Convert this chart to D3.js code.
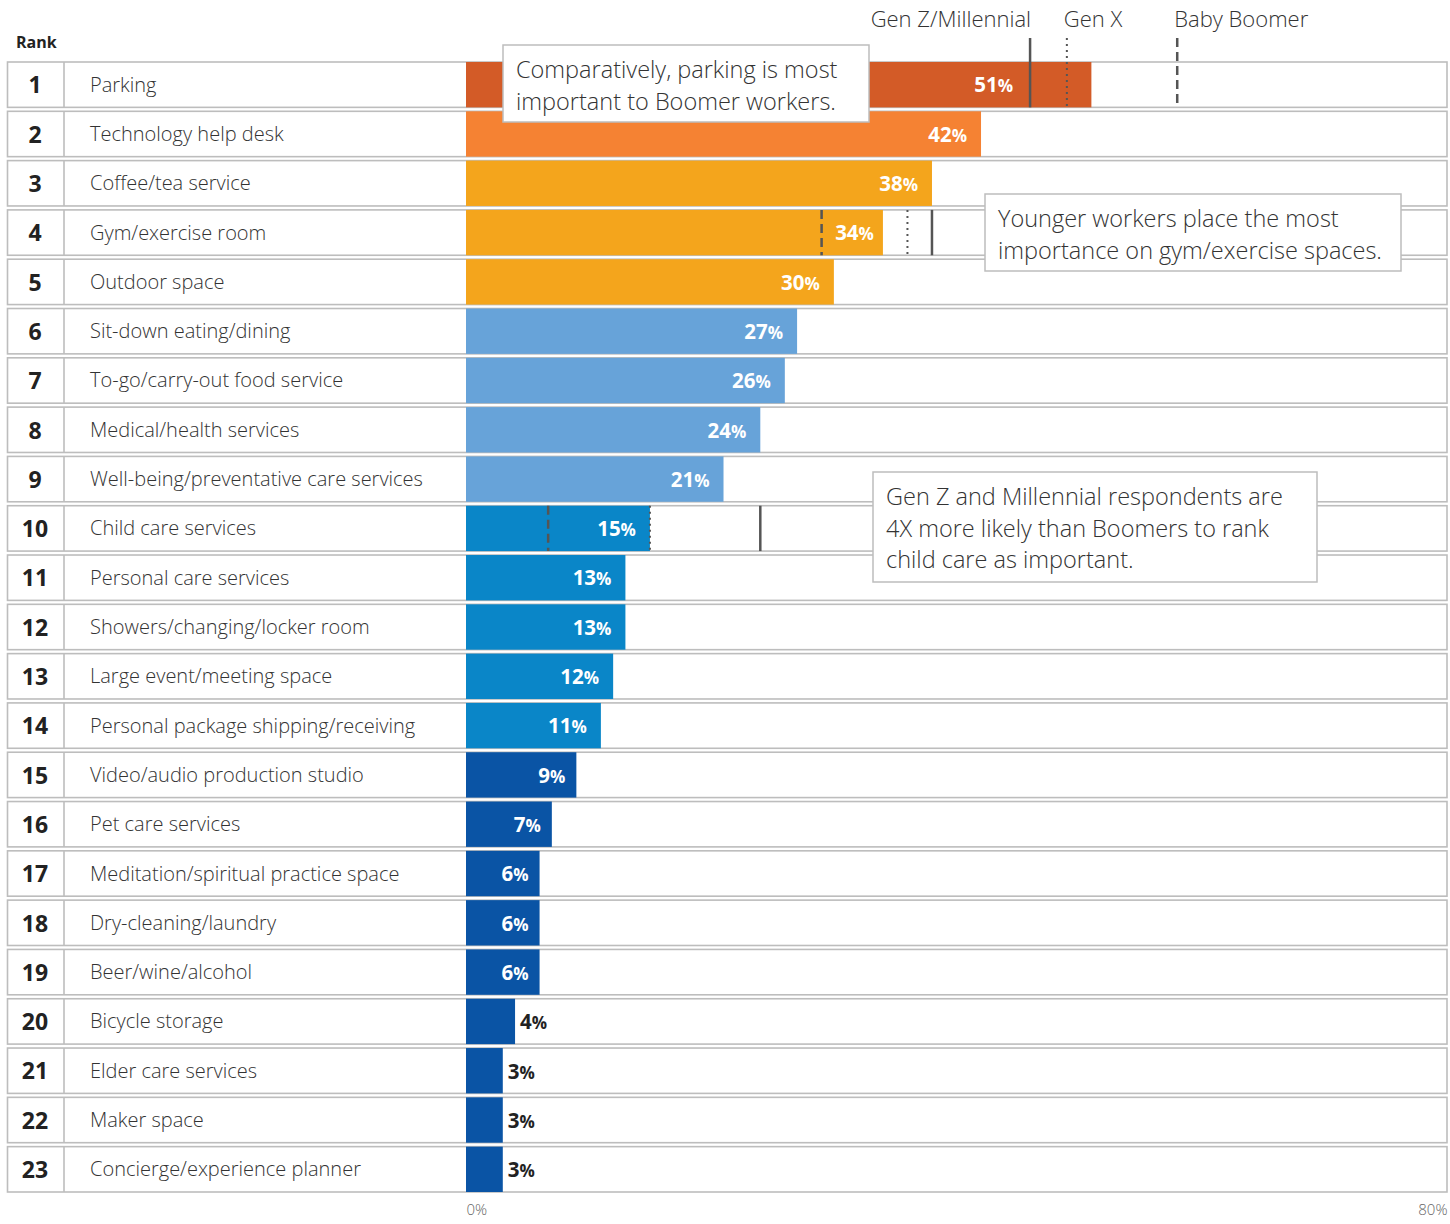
<!DOCTYPE html>
<html>
<head>
<meta charset="utf-8">
<script src="https://cdn.jsdelivr.net/npm/d3@7"></script>
<style>
  body { margin: 0; background: #fff; }
  text { font-family: "Open Sans", "Noto Sans", sans-serif; }
</style>
</head>
<body>
<div id="chart"></div>
<script>
// ranks + amenities, in order
var ranks = d3.range(1, 24);
var categories = [
  "Parking", "Technology help desk", "Coffee/tea service", "Gym/exercise room",
  "Outdoor space", "Sit-down eating/dining", "To-go/carry-out food service",
  "Medical/health services", "Well-being/preventative care services",
  "Child care services", "Personal care services", "Showers/changing/locker room",
  "Large event/meeting space", "Personal package shipping/receiving",
  "Video/audio production studio", "Pet care services",
  "Meditation/spiritual practice space", "Dry-cleaning/laundry", "Beer/wine/alcohol",
  "Bicycle storage", "Elder care services", "Maker space", "Concierge/experience planner"
];
var values = [51, 42, 38, 34, 30, 27, 26, 24, 21, 15, 13, 13, 12, 11, 9, 7, 6, 6, 6, 4, 3, 3, 3];
// colour tier for each bar
var tiers = [0, 1, 2, 2, 2, 3, 3, 3, 3, 4, 4, 4, 4, 4, 5, 5, 5, 5, 5, 5, 5, 5, 5];

// generation breakouts (Gen Z/Millennial, Gen X, Baby Boomer)
var generations = ["Gen Z/Millennial", "Gen X", "Baby Boomer"];
var parkingByGen = [46, 49, 58];
var gymByGen = [38, 36, 29];
var childCareByGen = [24, 15, 6.7];

var axisTicks = [0, 80];

var palette = ["#d35b27", "#f58233", "#f4a51c", "#67a3d9", "#0a86c8", "#0a54a5"];
var genDash = ["none", "2,4", "9,5"];
var lineColor = "#555";

var width = 1450, height = 1224;
var font_size = 20;

var svg = d3.select("#chart")
  .append("svg")
    .attr("width", width)
    .attr("height", height);

var x = d3.scaleLinear()
  .domain([0, 80])
  .range([466, 1447]);

var y = d3.scaleBand()
  .domain(categories)
  .range([62, 1192])
  .paddingInner(0.08)
  .paddingOuter(0);

// rows
var rows = svg.append("g").selectAll("g")
  .data(categories)
  .join("g")
    .attr("transform", d => "translate(0," + y(d) + ")");

rows.append("rect")
  .attr("x", 7.5)
  .attr("y", 0)
  .attr("width", 1447 - 7.5)
  .attr("height", y.bandwidth())
  .attr("fill", "#fff")
  .attr("stroke", "#bdbdbd")
  .attr("stroke-width", 1.6);

rows.append("line")
  .attr("x1", 64).attr("x2", 64)
  .attr("y1", 0).attr("y2", y.bandwidth())
  .attr("stroke", "#bdbdbd")
  .attr("stroke-width", 1.6);

rows.append("text")
  .attr("x", 35)
  .attr("y", y.bandwidth() / 2)
  .attr("dy", "0.38em")
  .attr("text-anchor", "middle")
  .attr("font-size", 23)
  .attr("font-weight", 700)
  .attr("fill", "#222")
  .text((d, i) => ranks[i]);

rows.append("text")
  .attr("x", 90)
  .attr("y", y.bandwidth() / 2)
  .attr("dy", "0.35em")
  .attr("font-size", font_size)
  .attr("font-weight", 300)
  .attr("fill", "#333")
  .text(d => d);

// bars
rows.append("rect")
  .attr("x", x(0))
  .attr("y", 0)
  .attr("width", (d, i) => x(values[i]) - x(0))
  .attr("height", y.bandwidth())
  .attr("fill", (d, i) => palette[tiers[i]]);

// generation markers within rows
var markerRows = [
  { cat: "Parking", vals: parkingByGen },
  { cat: "Gym/exercise room", vals: gymByGen },
  { cat: "Child care services", vals: childCareByGen }
];

markerRows.forEach(function (m) {
  m.vals.forEach(function (v, g) {
    var top = y(m.cat);
    // row 1 markers run up into the legend
    if (m.cat === categories[0]) top = 38;
    svg.append("line")
      .attr("x1", x(v)).attr("x2", x(v))
      .attr("y1", top).attr("y2", y(m.cat) + y.bandwidth())
      .attr("stroke", lineColor)
      .attr("stroke-width", g === 1 ? 2 : 2.5)
      .attr("stroke-dasharray", genDash[g]);
  });
});

// legend labels
svg.append("g").selectAll("text")
  .data(generations)
  .join("text")
    .attr("x", (d, i) => i === 0 ? x(parkingByGen[i]) + 1 : x(parkingByGen[i]) - 3)
    .attr("y", 27)
    .attr("text-anchor", (d, i) => i === 0 ? "end" : "start")
    .attr("font-size", 22)
    .attr("font-weight", 300)
    .attr("fill", "#333")
    .text(d => d);

// value labels
function markersFor(cat) {
  var m = markerRows.find(r => r.cat === cat);
  return m ? m.vals.map(v => x(v)) : [];
}

rows.each(function (d, i) {
  var v = values[i];
  var g = d3.select(this);
  var t = g.append("text")
    .attr("y", y.bandwidth() / 2)
    .attr("dy", "0.38em")
    .attr("font-size", 20.5)
    .attr("font-weight", 700);
  if (v >= 6) {
    var end = x(v) - (v >= 10 ? 14 : 11);
    var mk = markersFor(d);
    var hit = mk.filter(p => p > end - 50 && p < end + 4);
    if (hit.length) {
      var end2 = x(v) - 9;
      var hit2 = mk.filter(p => p > end2 - 47 && p < end2 + 4);
      if (hit2.length) {
        end = d3.min(mk.filter(p => p > end - 60 && p < x(v))) - 17;
      } else {
        end = end2;
      }
    }
    t.attr("x", end).attr("text-anchor", "end").attr("fill", "#fff");
  } else {
    t.attr("x", x(v) + 5).attr("text-anchor", "start").attr("fill", "#222");
  }
  t.append("tspan").text(v);
  t.append("tspan").attr("font-size", 17).text("%");
});

// rank header
svg.append("text")
  .attr("x", 16)
  .attr("y", 48)
  .attr("font-size", 16)
  .attr("font-weight", 700)
  .attr("fill", "#222")
  .text("Rank");

// axis
var axis = svg.append("g")
  .attr("transform", "translate(0,1201)")
  .call(d3.axisBottom(x).tickValues(axisTicks).tickSize(0).tickFormat(d => d + "%"));
axis.select(".domain").remove();
axis.selectAll("text")
  .attr("font-family", "\"Open Sans\", sans-serif")
  .attr("font-size", 15)
  .attr("font-weight", 300)
  .attr("fill", "#666")
  .attr("dy", "0.75em")
  .attr("text-anchor", (d, i) => i === 0 ? "start" : "end");

// annotations
var notes = [
  { x: 503, y: 45, w: 366, h: 77, lines: ["Comparatively, parking is most", "important to Boomer workers."] },
  { x: 985, y: 194, w: 416, h: 77, lines: ["Younger workers place the most", "importance on gym/exercise spaces."] },
  { x: 873, y: 472, w: 444, h: 110, lines: ["Gen Z and Millennial respondents are", "4X more likely than Boomers to rank", "child care as important."] }
];

var note = svg.append("g").selectAll("g")
  .data(notes)
  .join("g")
    .attr("transform", d => "translate(" + d.x + "," + d.y + ")");

note.append("rect")
  .attr("width", d => d.w)
  .attr("height", d => d.h)
  .attr("fill", "#fff")
  .attr("stroke", "#bdbdbd")
  .attr("stroke-width", 1.5);

note.selectAll("text")
  .data(d => d.lines)
  .join("text")
    .attr("x", 13)
    .attr("y", (d, i) => 33 + i * 31.5)
    .attr("font-size", 23.5)
    .attr("font-weight", 300)
    .attr("fill", "#333")
    .text(d => d);
</script>
</body>
</html>
